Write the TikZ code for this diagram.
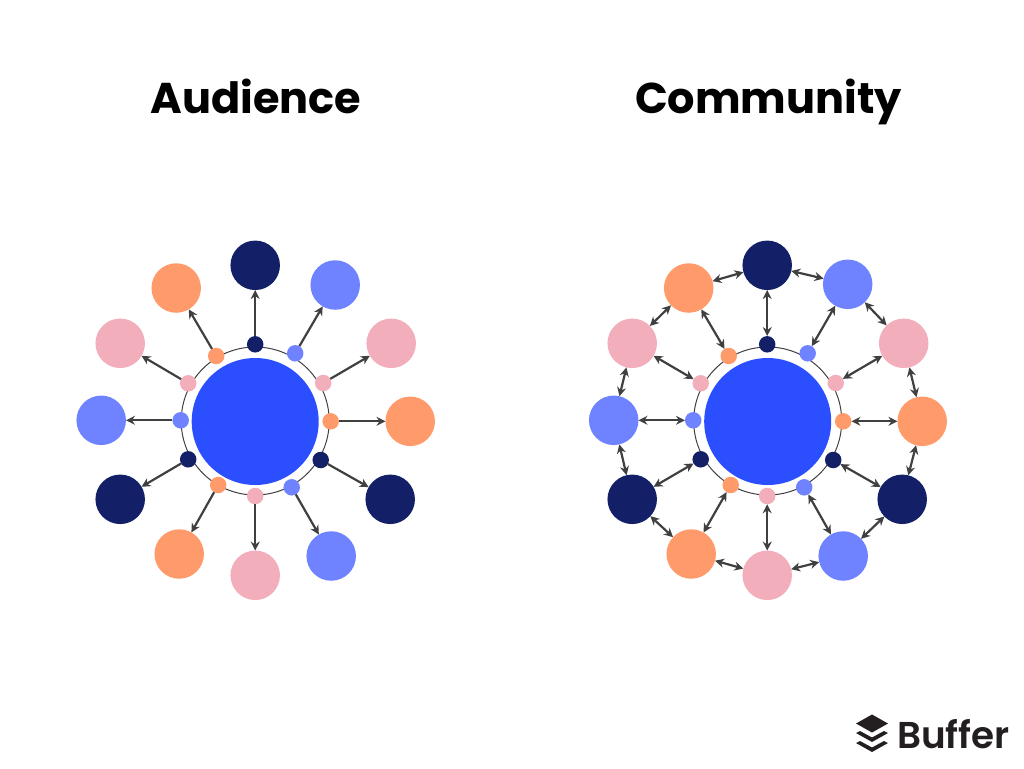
\documentclass[tikz,border=0pt]{standalone}
\usepackage{fontspec}
\setmainfont{Poppins}
\newfontfamily\titlefont{Poppins}[UprightFont=* Bold]
\newfontfamily\logofont{Poppins}[UprightFont=* SemiBold]
\usetikzlibrary{arrows.meta}
\definecolor{navy}{HTML}{131F66}
\definecolor{peri}{HTML}{6F82FF}
\definecolor{pinky}{HTML}{F2AEBB}
\definecolor{orng}{HTML}{FF9B6B}
\definecolor{core}{HTML}{2B4EFF}
\definecolor{linkc}{HTML}{404040}
\definecolor{logoc}{HTML}{231F20}
\tikzset{
  dotnode/.style={circle,draw=none,inner sep=0pt,outer sep=0pt,minimum size=16.5*0.75pt},
  outernode/.style={circle,draw=none,inner sep=0pt,outer sep=0pt,minimum size=49.5*0.75pt},
  corenode/.style={circle,fill=core,inner sep=0pt,outer sep=0pt,minimum size=127*0.75pt},
  ringnode/.style={circle,draw=linkc,line width=0.75pt,inner sep=0pt,outer sep=0pt,minimum size=148*0.75pt},
  oneway/.style={draw=linkc,line width=2.2*0.75pt,-{Stealth[length=9*0.75pt,width=9*0.75pt]}},
  twoway/.style={draw=linkc,line width=2.2*0.75pt,{Stealth[length=9*0.75pt,width=9*0.75pt]}-{Stealth[length=9*0.75pt,width=9*0.75pt]}},
  titletext/.style={font=\titlefont\fontsize{32.3pt}{36pt}\selectfont,inner sep=0pt,text=black,anchor=base},
}
\begin{document}
\begin{tikzpicture}[x=0.75pt,y=-0.75pt]
\useasboundingbox (0,0) rectangle (1024,768);
\node[titletext] (t1) at (256,113.5) {Audience};
\node[titletext] (t2) at (768.5,113.5) {Community};
% left
\node[ringnode] (ringA) at (255.2,421) {};
\node[corenode] (coreA) at (255.2,421.5) {};
\foreach \n/\ox/\oy/\ix/\iy/\c in {
 1/255.2/265.3/255.2/344.3/navy, 2/335.2/285/295.2/353.3/peri, 3/391.2/343.3/323.2/383/pinky,
 4/410.2/421.3/330.7/421.3/orng, 5/390.2/499.3/320.7/460/navy, 6/331.2/556/291.7/487.3/peri,
 7/255.2/575.3/255.2/496/pinky, 8/179.2/554/218.2/485/orng, 9/120.2/499.3/188.2/459.3/navy,
 10/101.2/420.3/180.7/420.3/peri, 11/120.2/343.3/188.2/383.3/pinky, 12/176.2/288/216.2/356/orng}{
  \node[outernode,fill=\c] (ao\n) at (\ox,\oy) {};
  \node[dotnode,fill=\c] (ai\n) at (\ix,\iy) {};
  \draw[oneway] (ai\n) -- (ao\n);
}
% right
\node[ringnode] (ringB) at (767.7,421) {};
\node[corenode] (coreB) at (767.7,421.5) {};
\foreach \n/\ox/\oy/\ix/\iy/\c in {
 1/767.2/265.3/767.2/344.3/navy, 2/847.7/284.3/807.7/353.3/peri, 3/903.7/343.3/835.7/383/pinky,
 4/922.2/421.3/843.2/421.3/orng, 5/902.2/499.3/833.2/460/navy, 6/843.2/556/804.2/487.3/peri,
 7/767.2/575.3/767.2/496/pinky, 8/691.2/554/730.7/485/orng, 9/632.2/499.3/700.7/459.3/navy,
 10/613.7/420.3/693.2/420.3/peri, 11/632.2/343.3/700.7/383.3/pinky, 12/688.7/288/728.7/356/orng}{
  \node[outernode,fill=\c] (bo\n) at (\ox,\oy) {};
  \node[dotnode,fill=\c] (bi\n) at (\ix,\iy) {};
  \draw[twoway] (bi\n) -- (bo\n);
}
\foreach \a/\b in {1/2,2/3,3/4,4/5,5/6,6/7,7/8,8/9,9/10,10/11,11/12,12/1}{
  \draw[twoway] (bo\a) -- (bo\b);
}
% logo
\fill[logoc] (856,723.5) -- (872,714.5) -- (888,723.5) -- (872,732.5) -- cycle;
\fill[logoc] (856,733) -- (860,731) -- (872,737.5) -- (884,731) -- (888,733) -- (872,742) -- cycle;
\fill[logoc] (856,743) -- (860,741) -- (872,747.5) -- (884,741) -- (888,743) -- (872,752) -- cycle;
\node[font=\logofont\fontsize{28pt}{32pt}\selectfont,text=logoc,inner sep=0pt,anchor=base west] (logo) at (897,748) {Buffer};
\end{tikzpicture}
\end{document}
